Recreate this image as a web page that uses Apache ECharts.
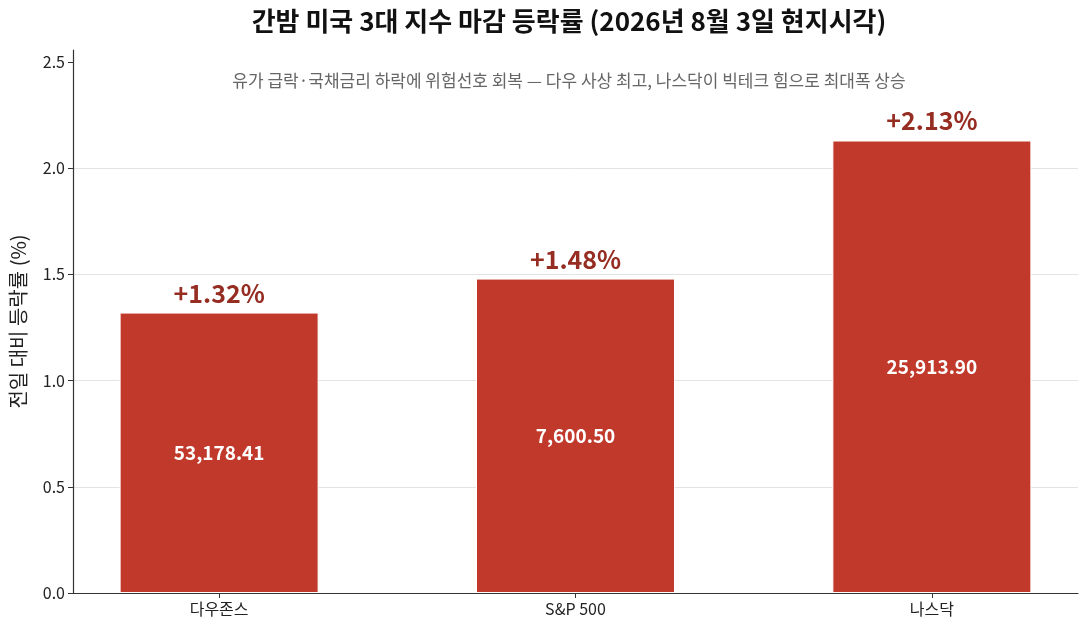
<!DOCTYPE html>
<html>
<head>
<meta charset="utf-8">
<script src="https://cdn.jsdelivr.net/npm/echarts@6/dist/echarts.min.js"></script>
<style>
html,body{margin:0;padding:0;background:#fff;}
#chart{width:1084px;height:630px;}
</style>
</head>
<body>
<div id="chart"></div>
<script>
const categories = ["다우존스", "S&P 500", "나스닥"];
const changePct = [1.32, 1.48, 2.13];
const closeValues = [53178.41, 7600.50, 25913.90];
const yTicks = [0, 0.5, 1.0, 1.5, 2.0, 2.5];

const FONT = '"Noto Sans CJK KR", "Noto Sans", sans-serif';
const chart = echarts.init(document.getElementById('chart'));

const barData = changePct.map((v, i) => [i, v]);

chart.setOption({
  backgroundColor: '#fff',
  animation: false,
  title: [
    {
      text: '간밤 미국 3대 지수 마감 등락률 (2026년 8월 3일 현지시각)',
      left: 564, top: 3, textAlign: 'center',
      textStyle: {fontFamily: FONT, fontSize: 26, fontWeight: 'bold', color: '#111'}
    },
    {
      text: '유가 급락·국채금리 하락에 위험선호 회복 — 다우 사상 최고, 나스닥이 빅테크 힘으로 최대폭 상승',
      left: 564, top: 67, textAlign: 'center',
      textStyle: {fontFamily: FONT, fontSize: 17, fontWeight: 'normal', color: '#666'}
    }
  ],
  grid: {left: 72, right: 6, top: 50, bottom: 37},
  xAxis: {
    type: 'value',
    min: -0.41, max: 2.41,
    axisLine: {show: true, onZero: false, lineStyle: {color: '#333', width: 1.2}},
    axisTick: {show: true, customValues: [0, 1, 2], length: 5, lineStyle: {color: '#333'}},
    axisLabel: {
      customValues: [0, 1, 2],
      formatter: v => categories[Math.round(v)] || '',
      fontFamily: FONT, fontSize: 16, color: '#222', margin: 8
    },
    splitLine: {show: false}
  },
  yAxis: {
    type: 'value',
    min: 0, max: 2.556,
    axisLine: {show: true, onZero: false, lineStyle: {color: '#333', width: 1.2}},
    axisTick: {show: true, customValues: yTicks, length: 5, lineStyle: {color: '#333'}},
    axisLabel: {
      customValues: yTicks,
      formatter: v => v.toFixed(1),
      fontFamily: FONT, fontSize: 16, color: '#222', margin: 8
    },
    splitLine: {show: true, showMinLine: false, showMaxLine: false, lineStyle: {color: '#e3e3e3', width: 1}},
    name: '전일 대비 등락률 (%)',
    nameLocation: 'middle', nameGap: 45,
    nameTextStyle: {fontFamily: FONT, fontSize: 20, color: '#222'}
  },
  series: [
    {
      type: 'bar',
      data: barData,
      barWidth: 199,
      barGap: '-100%',
      itemStyle: {color: '#c0392b', borderColor: '#fff', borderWidth: 1},
      label: {
        show: true, position: 'inside',
        formatter: p => closeValues[p.dataIndex].toLocaleString('en-US', {minimumFractionDigits: 2, maximumFractionDigits: 2}),
        fontFamily: FONT, fontSize: 19, fontWeight: 'bold', color: '#fff'
      },
      z: 2
    },
    {
      type: 'bar',
      data: barData,
      barWidth: 199,
      barGap: '-100%',
      itemStyle: {color: 'rgba(0,0,0,0)'},
      label: {
        show: true, position: 'top', distance: 7,
        formatter: p => '+' + changePct[p.dataIndex].toFixed(2) + '%',
        fontFamily: FONT, fontSize: 25, fontWeight: 'bold', color: '#962d22'
      },
      z: 3
    }
  ]
});
</script>
</body>
</html>
